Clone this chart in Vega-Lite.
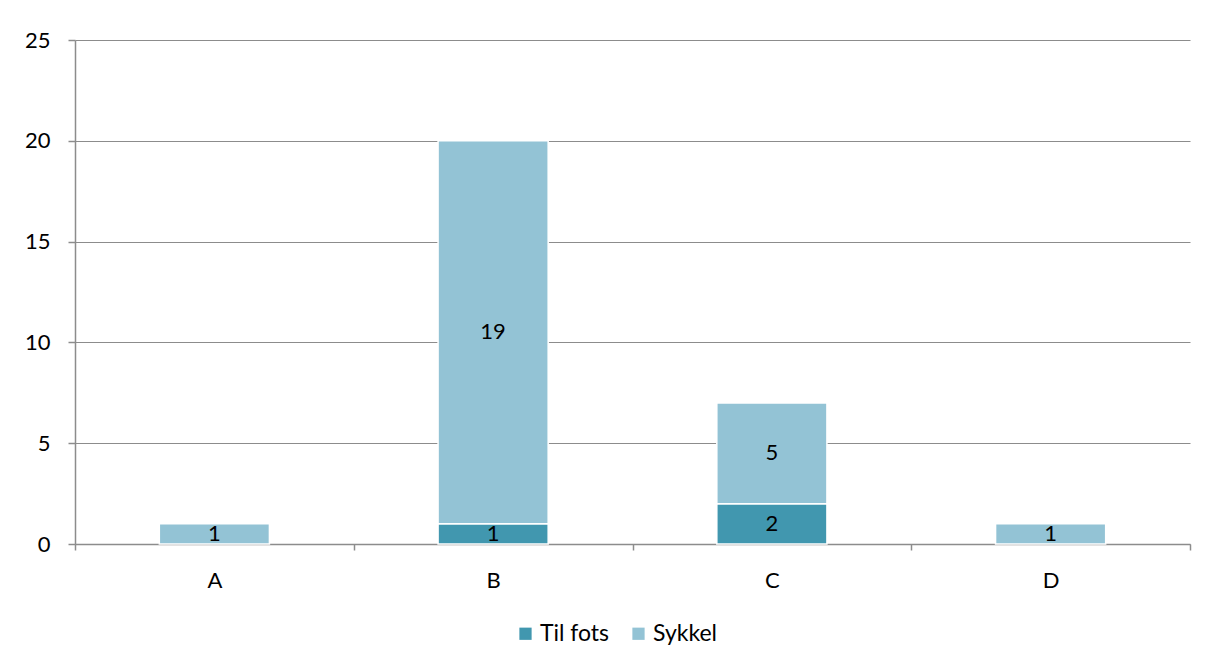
{
  "$schema": "https://vega.github.io/schema/vega-lite/v6.json",
  "width": 1115,
  "height": 504,
  "autosize": {"type": "none"},
  "padding": {"left": 75, "top": 40, "right": 18, "bottom": 124},
  "background": "white",
  "config": {
    "view": {"stroke": null},
    "font": "Lato",
    "axis": {
      "labelFont": "Lato",
      "labelFontSize": 22,
      "labelColor": "#000000",
      "domainColor": "#8c8c8c",
      "tickColor": "#8c8c8c",
      "gridColor": "#8c8c8c",
      "gridOpacity": 1,
      "domainWidth": 1.5,
      "tickWidth": 1.5,
      "gridWidth": 1.2
    }
  },
  "data": {
    "values": [
      {"kategori": "A", "transport": "Sykkel", "antall": 1, "rekke": 2},
      {"kategori": "B", "transport": "Til fots", "antall": 1, "rekke": 1},
      {"kategori": "B", "transport": "Sykkel", "antall": 19, "rekke": 2},
      {"kategori": "C", "transport": "Til fots", "antall": 2, "rekke": 1},
      {"kategori": "C", "transport": "Sykkel", "antall": 5, "rekke": 2},
      {"kategori": "D", "transport": "Sykkel", "antall": 1, "rekke": 2}
    ]
  },
  "transform": [
    {
      "stack": "antall",
      "groupby": ["kategori"],
      "sort": [{"field": "rekke", "order": "ascending"}],
      "as": ["bunn", "topp"]
    },
    {"calculate": "(datum.bunn + datum.topp) / 2", "as": "midt"}
  ],
  "encoding": {
    "x": {
      "field": "kategori",
      "type": "nominal",
      "sort": ["A", "B", "C", "D"],
      "scale": {"paddingInner": 0, "paddingOuter": 0},
      "axis": {
        "title": null,
        "labelAngle": 0,
        "tickBand": "extent",
        "tickSize": 6,
        "labelPadding": 20,
        "grid": false
      }
    }
  },
  "layer": [
    {
      "mark": {"type": "bar", "stroke": "white", "strokeWidth": 1.5, "width": {"band": 0.395}},
      "encoding": {
        "y": {
          "field": "topp",
          "type": "quantitative",
          "scale": {"domain": [0, 25], "nice": false},
          "axis": {
            "title": null,
            "values": [0, 5, 10, 15, 20, 25],
            "tickSize": 7,
            "labelPadding": 18,
            "grid": true
          }
        },
        "y2": {"field": "bunn"},
        "color": {
          "field": "transport",
          "type": "nominal",
          "sort": ["Til fots", "Sykkel"],
          "scale": {"domain": ["Til fots", "Sykkel"], "range": ["#4197AF", "#93C3D5"]},
          "legend": {
            "title": null,
            "orient": "none",
            "direction": "horizontal",
            "legendX": 439,
            "legendY": 582,
            "symbolType": "square",
            "symbolSize": 150,
            "symbolStrokeWidth": 0,
            "symbolOpacity": 1,
            "labelFont": "Lato",
            "labelFontSize": 23,
            "labelColor": "#000000",
            "labelOffset": 3,
            "columnPadding": 17
          }
        }
      }
    },
    {
      "mark": {"type": "text", "font": "Lato", "fontSize": 22, "color": "#000000", "baseline": "middle", "align": "center"},
      "encoding": {
        "y": {"field": "midt", "type": "quantitative"},
        "text": {"field": "antall", "type": "quantitative"}
      }
    }
  ]
}
